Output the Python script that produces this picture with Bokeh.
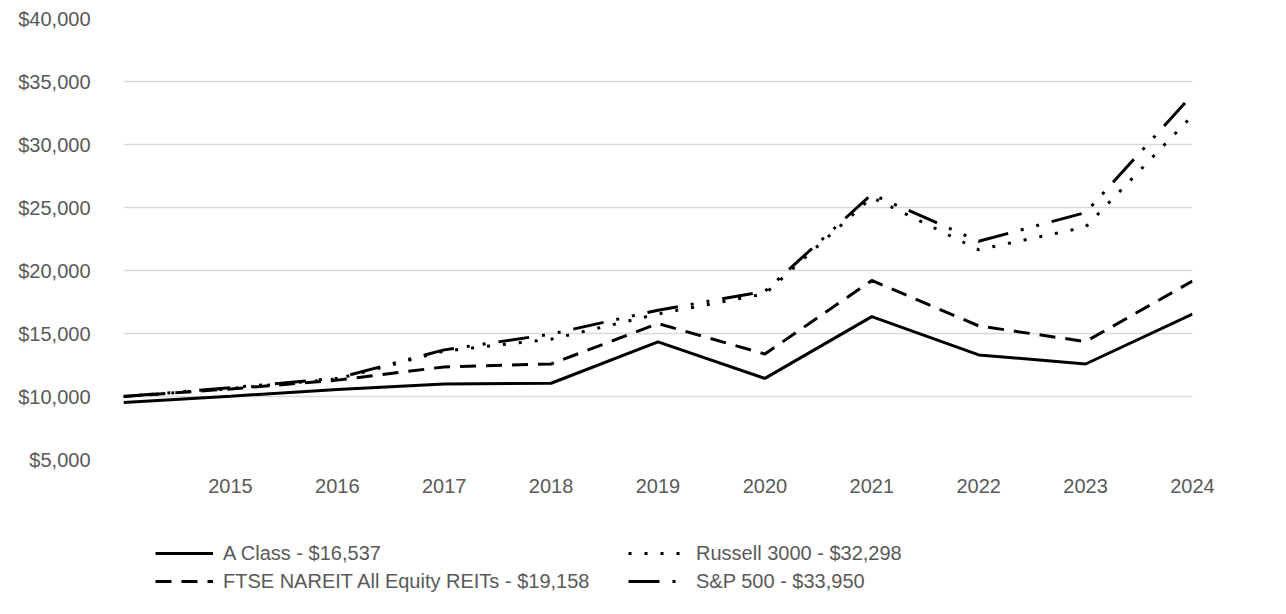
from bokeh.plotting import figure
from bokeh.layouts import column
from bokeh.models import Range1d, FixedTicker, NumeralTickFormatter, Legend, LegendItem
from bokeh.embed import file_html
from bokeh.resources import INLINE

years = [2014, 2015, 2016, 2017, 2018, 2019, 2020, 2021, 2022, 2023, 2024]
a_class = [9525, 10020, 10560, 10990, 11050, 14330, 11440, 16340, 13300, 12580, 16537]
ftse = [10000, 10600, 11300, 12350, 12580, 15790, 13370, 19210, 15600, 14360, 19158]
russell = [10000, 10630, 11400, 13600, 14550, 16550, 18150, 25800, 21650, 23450, 32298]
sp500 = [10000, 10700, 11450, 13700, 14950, 16850, 18350, 26050, 22320, 24600, 33950]

labels = ["A Class - $16,537", "FTSE NAREIT All Equity REITs - $19,158",
          "Russell 3000 - $32,298", "S&P 500 - $33,950"]
x_ticks = [2015, 2016, 2017, 2018, 2019, 2020, 2021, 2022, 2023, 2024]
y_ticks = [5000, 10000, 15000, 20000, 25000, 30000, 35000, 40000]

FONT = "Liberation Sans"
GRAY = "#595959"
DASHES = ["solid", "16 10", "3 13", "31 13 3 13 3 13"]
series = [a_class, ftse, russell, sp500]

p = figure(width=1280, height=520, output_backend="svg", toolbar_location=None,
           x_range=Range1d(2014, 2024), y_range=Range1d(5000, 40000),
           min_border_left=123, min_border_right=88, min_border_top=18,
           min_border_bottom=61)
p.outline_line_color = None
p.xgrid.grid_line_color = None
p.ygrid.grid_line_color = "#d9d9d9"
p.ygrid.grid_line_width = 1.5

p.xaxis.ticker = FixedTicker(ticks=x_ticks)
p.yaxis.ticker = FixedTicker(ticks=y_ticks)
p.yaxis.formatter = NumeralTickFormatter(format="$0,0")
for ax in (p.xaxis[0], p.yaxis[0]):
    ax.axis_line_color = None
    ax.major_tick_line_color = None
    ax.minor_tick_line_color = None
    ax.major_tick_out = 0
    ax.major_tick_in = 0
    ax.minor_tick_out = 0
    ax.major_label_text_font = FONT
    ax.major_label_text_font_size = "20px"
    ax.major_label_text_color = GRAY
p.xaxis.major_label_standoff = 19
p.yaxis.major_label_standoff = 33

for vals, dash in zip(series, DASHES):
    p.line(years, vals, line_color="black", line_width=3, line_dash=dash)

# legend panel below the chart (same horizontal borders so frames line up)
lp = figure(width=1280, height=86, output_backend="svg", toolbar_location=None,
            x_axis_location=None, y_axis_location=None,
            x_range=Range1d(0, 1), y_range=Range1d(0, 1),
            min_border_left=123, min_border_right=88, min_border_top=0,
            min_border_bottom=0)
lp.outline_line_color = None
lp.xgrid.grid_line_color = None
lp.ygrid.grid_line_color = None
# single-point renderers: they only provide the legend sample styles
leg_r = [lp.line([-5], [-5], line_color="black", line_width=3, line_dash=d)
         for d in DASHES]


def make_legend(items, loc):
    return Legend(items=items, location=loc, orientation="vertical",
                  label_text_font=FONT, label_text_font_size="20px",
                  label_text_color=GRAY, glyph_width=58, glyph_height=24,
                  label_height=24, label_standoff=10, spacing=4, padding=0,
                  margin=0, border_line_alpha=0, background_fill_alpha=0)


lp.add_layout(make_legend([LegendItem(label=labels[0], renderers=[leg_r[0]]),
                           LegendItem(label=labels[1], renderers=[leg_r[1]])],
                          (32, 13)))
lp.add_layout(make_legend([LegendItem(label=labels[2], renderers=[leg_r[2]]),
                           LegendItem(label=labels[3], renderers=[leg_r[3]])],
                          (505, 13)))

open("out.html", "w").write(file_html(column(p, lp), INLINE))
